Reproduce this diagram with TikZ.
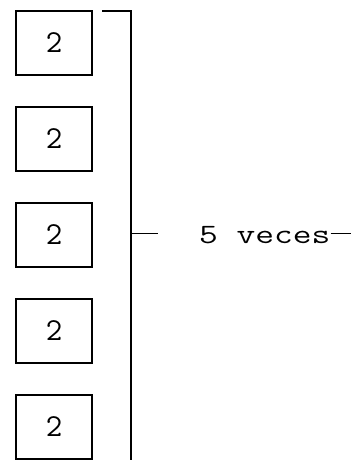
\documentclass[tikz,border=0pt]{standalone}
\usepackage{graphicx}
\begin{document}
\begin{tikzpicture}[x=1pt,y=-1pt,
  numbox/.style={draw=black, line width=1.8pt, minimum width=76pt, minimum height=64pt,
    inner sep=0pt, font=\ttfamily\fontsize{32}{36}\selectfont},
  bracketline/.style={draw=black, line width=1.8pt},
  thinline/.style={draw=black, line width=1pt},
  lbltext/.style={inner sep=0pt, anchor=base west, font=\ttfamily\fontsize{28}{32}\selectfont}]
\useasboundingbox (0,0) rectangle (354,460);
\fill[white] (0,0) rectangle (354,460);
\node[numbox] (b1) at (54,43) {2};
\node[numbox] (b2) at (54,139) {2};
\node[numbox] (b3) at (54,235) {2};
\node[numbox] (b4) at (54,331) {2};
\node[numbox] (b5) at (54,427) {2};
\coordinate (bt0) at (102,11);
\coordinate (bt1) at (131,11);
\coordinate (bb) at (131,462);
\coordinate (tm) at (131,233);
\coordinate (te) at (158,233);
\draw[bracketline] (bt0) -- (bt1) -- (bb);
\draw[thinline] (tm) -- (te);
\node[lbltext] (lbl) at (199,243) {\scalebox{1.3}[1]{5 veces}};
\coordinate (de) at (351,233);
\draw[thinline] (lbl.east |- de) -- (de);
\end{tikzpicture}
\end{document}
